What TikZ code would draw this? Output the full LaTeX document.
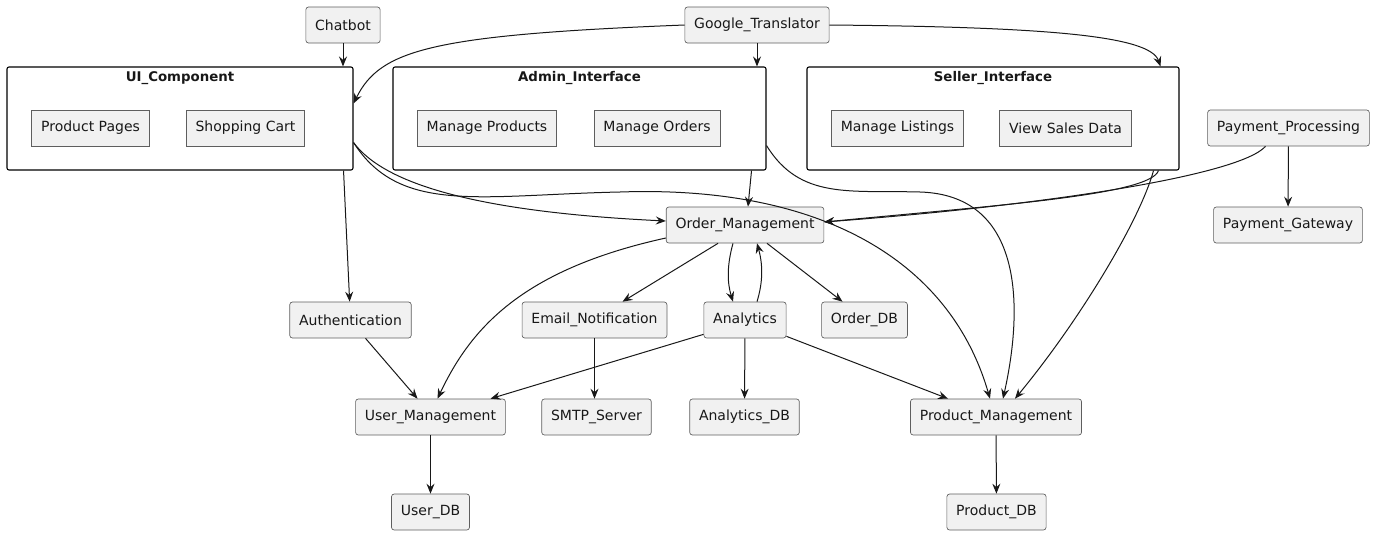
\documentclass[tikz,border=0pt]{standalone}
\usepackage{fontspec}
\setmainfont{DejaVu Sans}
\usetikzlibrary{arrows.meta,calc,fit}
\definecolor{boxfill}{HTML}{F1F1F1}
\definecolor{boxline}{HTML}{5E5E5E}
\definecolor{edgecol}{HTML}{181818}

\begin{document}
\begin{tikzpicture}[x=0.75pt,y=-0.75pt,font=\fontsize{10.5}{12}\selectfont,
  color=edgecol,line width=0.75pt,
  >={Stealth[length=7.5pt,width=6pt,inset=2.6pt]},
  nd/.style={draw=boxline,line width=0.5pt,rounded corners=2pt,fill=boxfill,
    minimum height=27pt,inner xsep=7pt,inner ysep=0pt},
  sub/.style={nd,rounded corners=0pt},
  cl/.style={draw=black,line width=0.8pt,rounded corners=1.5pt,inner sep=0pt}]
  \useasboundingbox (0,0) rectangle (1375,536);
  % clusters
  \node[cl,fit={(7,67) (353,170)},label={[anchor=north,font=\bfseries]north:UI\_Component}] (ui) {};
  \node[cl,fit={(393,67) (766,170)},label={[anchor=north,font=\bfseries]north:Admin\_Interface}] (admin) {};
  \node[cl,fit={(807,67) (1179,170)},label={[anchor=north,font=\bfseries]north:Seller\_Interface}] (seller) {};
  \node[sub] (ppages) at (90.5,128) {Product Pages};
  \node[sub] (scart) at (245.5,128) {Shopping Cart};
  \node[sub] (mprod) at (487,128) {Manage Products};
  \node[sub] (morders) at (657,128) {Manage Orders};
  \node[sub] (mlist) at (897.5,128) {Manage Listings};
  \node[sub] (vsales) at (1065.5,128) {View Sales Data};
  % components
  \node[nd] (chat) at (343,25) {Chatbot};
  \node[nd] (gtr) at (757,25) {Google\_Translator};
  \node[nd] (pay) at (1288.5,128) {Payment\_Processing};
  \node[nd] (pgw) at (1288,225) {Payment\_Gateway};
  \node[nd] (om) at (745,225) {Order\_Management};
  \node[nd] (auth) at (350.5,320) {Authentication};
  \node[nd] (email) at (594.5,320) {Email\_Notification};
  \node[nd] (ana) at (745,320) {Analytics};
  \node[nd] (odb) at (864.5,320) {Order\_DB};
  \node[nd] (um) at (430.5,417) {User\_Management};
  \node[nd] (smtp) at (596.5,417) {SMTP\_Server};
  \node[nd] (adb) at (744.5,417) {Analytics\_DB};
  \node[nd] (pm) at (996,417) {Product\_Management};
  \node[nd] (udb) at (430.5,512) {User\_DB};
  \node[nd] (pdb) at (996.5,512) {Product\_DB};
  % connectors
  \draw[->] (chat) -- (chat |- ui.north);
  \draw[->] (gtr) -- (gtr |- admin.north);
  \draw[->] (gtr.west) .. controls (430,35) and (380,50) .. ($(ui.north east)+(0,37)$);
  \draw[->] (gtr.east) .. controls (1050,27) and (1150,36) .. ($(seller.north east)+(-19,0)$);
  \draw[->] ($(ui.south east)+(-10,0)$) -- (auth);
  \draw[->] ($(ui.south east)+(0,-28)$) .. controls (385,185) and (480,212) .. ($(om.west)+(0,-4)$);
  \draw[->] ($(ui.south east)+(0,-28)$) .. controls (400,215) and (480,195) .. (620,192)
    .. controls (820,185) and (950,260) .. ($(pm.north)+(-6,0)$);
  \draw[->] ($(admin.south east)+(-15,0)$) -- ($(om.north)+(3,0)$);
  \draw[->] ($(admin.south east)+(0,-25)$) .. controls (800,200) and (850,190) .. (920,192)
    .. controls (1020,195) and (1025,300) .. ($(pm.north)+(7,0)$);
  \draw[->] ($(seller.south east)+(-21,0)$) .. controls (1150,195) and (1000,205) .. ($(om.east)+(0,-3)$);
  \draw[->] ($(seller.south east)+(-26,0)$) .. controls (1140,220) and (1080,320) .. ($(pm.north)+(19,0)$);
  \draw[->] ($(pay.south)+(-23,0)$) .. controls (1240,175) and (1050,205) .. ($(om.east)+(0,-3)$);
  \draw[->] (pay) -- (pgw);
  \draw[->] ($(om.west)+(0,13)$) .. controls (520,270) and (470,330) .. ($(um.north)+(7,0)$);
  \draw[->] ($(om.south)+(-27,0)$) -- ($(email.north)+(28,0)$);
  \draw[->] ($(om.south)+(-12,0)$) .. controls (727,265) and (727,282) .. ($(ana.north)+(-12,0)$);
  \draw[->] ($(ana.north)+(12,0)$) .. controls (763,282) and (763,265) .. ($(om.south)+(12,0)$);
  \draw[->] ($(om.south)+(22,0)$) -- ($(odb.north)+(-22,0)$);
  \draw[->] ($(auth.south)+(15,0)$) -- ($(um.north)+(-13,0)$);
  \draw[->] ($(ana.south west)+(0,-4)$) -- ($(um.north)+(60,0)$);
  \draw[->] (ana) -- (adb);
  \draw[->] ($(ana.south east)+(0,-2)$) -- ($(pm.north)+(-48,0)$);
  \draw[->] (email) -- (email |- smtp.north);
  \draw[->] (um) -- (udb);
  \draw[->] (pm) -- (pdb);
\end{tikzpicture}
\end{document}
